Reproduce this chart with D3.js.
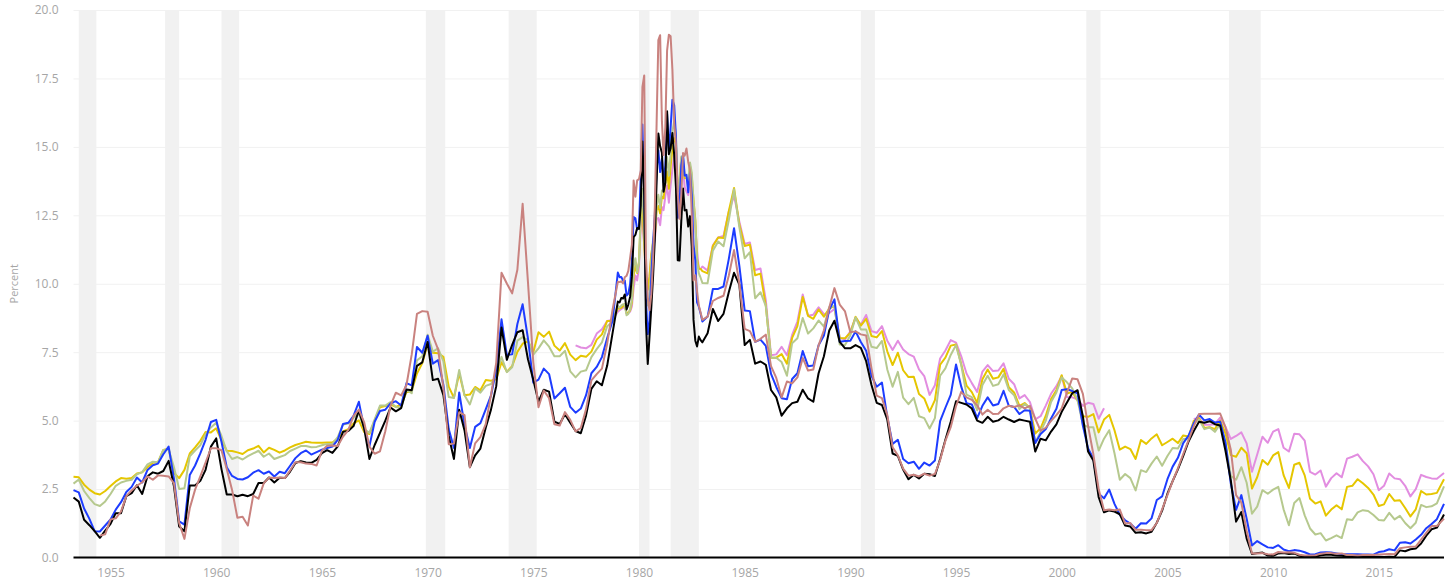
<!DOCTYPE html>
<html>
<head>
<meta charset="utf-8">
<script src="https://cdn.jsdelivr.net/npm/d3@7"></script>
<style>
    body { margin: 0; background: #fff; }
    svg text { font-family: "Open Sans", "Noto Sans", sans-serif; }
</style>
</head>
<body>
<svg id="chart" width="1456" height="585"></svg>
<script>
// sampling: quarterly (Jan/Apr/Jul/Oct) 1953-04..1978-10, monthly 1979..1982, quarterly 1983..2017-10, then 2018-02
const dates = [];
function addDates(y0, m0, y1, m1, step) {
    for (let d = new Date(y0, m0 - 1, 1); d <= new Date(y1, m1 - 1, 1); d = d3.timeMonth.offset(d, step))
        dates.push(d);
}
addDates(1953, 4, 1978, 10, 3);
addDates(1979, 1, 1982, 12, 1);
addDates(1983, 1, 2017, 10, 3);
dates.push(new Date(2018, 1, 1));

function missing(n) { return new Array(n).fill(null); }

const recessions = [
    ["1953-07", "1954-05"], ["1957-08", "1958-04"], ["1960-04", "1961-02"],
    ["1969-12", "1970-11"], ["1973-11", "1975-03"], ["1980-01", "1980-07"],
    ["1981-07", "1982-11"], ["1990-07", "1991-03"], ["2001-03", "2001-11"],
    ["2007-12", "2009-06"]
];

const yTicks = [0, 2.5, 5, 7.5, 10, 12.5, 15, 17.5, 20];

// 3-month treasury bill
const bill3m = [
    2.19, 2.04, 1.38,
    1.18, 0.96, 0.72, 0.98,
    1.23, 1.62, 1.62, 2.24,
    2.35, 2.64, 2.32, 2.97,
    3.11, 3.06, 3.16, 3.53,
    2.60, 1.13, 0.96, 2.63,
    2.63, 2.80, 3.20, 4.05,
    4.35, 3.23, 2.30, 2.30,
    2.24, 2.29, 2.24, 2.32,
    2.72, 2.72, 2.92, 2.74,
    2.91, 2.90, 3.14, 3.45,
    3.52, 3.47, 3.46, 3.57,
    3.81, 3.92, 3.82, 4.06,
    4.59, 4.62, 4.80, 5.36,
    4.72, 3.60, 4.11, 4.55,
    5.00, 5.48, 5.34, 5.46,
    6.14, 6.11, 7.00, 7.13,
    7.87, 6.48, 6.53, 5.93,
    4.44, 3.60, 5.40, 4.64,
    3.30, 3.73, 3.98, 4.74,
    5.41, 6.26, 8.40, 7.22,
    7.77, 8.23, 8.30, 7.24,
    6.49, 5.69, 6.13, 6.06,
    4.96, 4.88, 5.23, 4.92,
    4.62, 4.54, 5.19, 6.16,
    6.44, 6.29, 7.01, 8.19,
    9.35, 9.32, 9.48, 9.46, 9.61, 9.06, 9.24, 9.52, 10.26, 11.70, 11.79, 12.04,
    12.00, 12.86, 15.20, 13.20, 8.58, 7.07, 8.06, 9.13, 10.27, 11.62, 13.73, 15.49,
    15.02, 14.79, 13.36, 13.69, 16.30, 14.73, 14.95, 15.51, 14.70, 13.54, 10.86, 10.85,
    12.28, 13.48, 12.68, 12.70, 12.09, 12.47, 11.35, 8.68, 7.92, 7.71, 8.07, 7.94,
    7.86, 8.19, 9.08, 8.64,
    8.90, 9.69, 10.40, 9.97,
    7.76, 7.95, 7.08, 7.16,
    7.04, 6.12, 5.85, 5.18,
    5.45, 5.64, 5.69, 6.13,
    5.81, 5.69, 6.73, 7.35,
    8.29, 8.65, 7.88, 7.64,
    7.64, 7.76, 7.66, 7.17,
    6.30, 5.65, 5.57, 5.04,
    3.80, 3.71, 3.21, 2.86,
    3.02, 2.89, 3.06, 3.04,
    2.98, 3.60, 4.30, 4.96,
    5.71, 5.65, 5.59, 5.44,
    5.00, 4.92, 5.14, 4.96,
    5.01, 5.14, 5.04, 4.95,
    5.04, 5.00, 4.96, 3.87,
    4.34, 4.28, 4.60, 4.86,
    5.32, 5.66, 6.00, 6.11,
    5.15, 3.87, 3.54, 2.20,
    1.65, 1.72, 1.68, 1.58,
    1.17, 1.13, 0.90, 0.92,
    0.88, 0.94, 1.27, 1.71,
    2.33, 2.79, 3.22, 3.71,
    4.24, 4.62, 4.96, 4.92,
    4.98, 4.87, 4.82, 3.90,
    2.82, 1.31, 1.66, 0.69,
    0.13, 0.16, 0.18, 0.07,
    0.06, 0.15, 0.16, 0.13,
    0.15, 0.06, 0.04, 0.02,
    0.03, 0.08, 0.10, 0.10,
    0.07, 0.06, 0.04, 0.05,
    0.04, 0.03, 0.03, 0.02,
    0.03, 0.02, 0.03, 0.02,
    0.26, 0.23, 0.30, 0.33,
    0.51, 0.80, 1.03, 1.09,
    1.57
];

// 1-year treasury
const note1y = [
    2.46, 2.38, 1.79,
    1.41, 0.96, 0.95, 1.17,
    1.39, 1.75, 2.02, 2.39,
    2.58, 2.92, 2.74, 3.20,
    3.37, 3.43, 3.77, 4.05,
    2.88, 1.32, 1.20, 3.01,
    3.36, 3.80, 4.30, 4.95,
    5.03, 4.23, 3.30, 2.98,
    2.87, 2.85, 2.93, 3.10,
    3.19, 3.06, 3.14, 2.96,
    3.13, 3.08, 3.35, 3.63,
    3.81, 3.91, 3.76, 3.85,
    3.94, 4.00, 4.05, 4.30,
    4.88, 4.92, 5.17, 5.69,
    4.71, 4.06, 4.96, 5.35,
    5.40, 5.63, 5.71, 5.55,
    6.37, 6.29, 7.69, 7.48,
    8.10, 7.08, 7.21, 6.30,
    4.69, 4.00, 6.03, 4.83,
    4.00, 4.77, 4.91, 5.41,
    5.92, 6.87, 8.70, 7.40,
    7.42, 8.53, 9.25, 8.00,
    6.39, 6.50, 6.90, 6.70,
    5.81, 6.00, 6.20, 5.50,
    5.29, 5.44, 5.93, 6.73,
    6.96, 7.32, 8.02, 8.64,
    10.41, 10.24, 10.25, 10.12, 10.12, 9.57, 9.64, 9.98, 10.84, 12.44, 12.39, 11.98,
    12.06, 13.92, 15.82, 13.30, 9.39, 8.16, 8.65, 10.24, 11.52, 12.49, 14.15, 14.88,
    14.08, 14.57, 13.71, 14.32, 16.20, 14.86, 15.72, 16.72, 16.52, 15.38, 12.41, 12.85,
    14.32, 14.73, 13.95, 13.98, 13.34, 14.07, 13.24, 11.43, 10.85, 9.32, 9.16, 8.91,
    8.62, 8.80, 9.81, 9.81,
    9.90, 10.90, 12.03, 10.65,
    9.02, 9.00, 7.88, 7.96,
    7.73, 6.71, 6.23, 5.82,
    5.78, 6.52, 6.73, 7.54,
    6.99, 7.01, 7.75, 8.11,
    9.05, 9.43, 7.88, 7.91,
    7.92, 8.26, 7.87, 7.55,
    6.64, 6.24, 6.39, 5.14,
    4.15, 4.30, 3.60, 3.44,
    3.50, 3.24, 3.47, 3.36,
    3.54, 4.98, 5.47, 5.94,
    7.05, 6.24, 5.64, 5.59,
    5.09, 5.54, 5.85, 5.55,
    5.61, 6.09, 5.54, 5.50,
    5.24, 5.38, 5.36, 4.18,
    4.51, 4.69, 5.08, 5.43,
    6.12, 6.15, 6.08, 6.00,
    4.81, 3.98, 3.62, 2.33,
    2.16, 2.48, 1.96, 1.56,
    1.36, 1.24, 1.05, 1.25,
    1.24, 1.43, 2.10, 2.23,
    2.86, 3.32, 3.64, 4.18,
    4.45, 4.90, 5.22, 5.01,
    5.06, 4.93, 4.96, 4.20,
    2.71, 1.74, 2.28, 1.42,
    0.44, 0.60, 0.48, 0.37,
    0.35, 0.45, 0.29, 0.23,
    0.27, 0.25, 0.19, 0.11,
    0.12, 0.18, 0.19, 0.18,
    0.15, 0.12, 0.12, 0.12,
    0.12, 0.11, 0.11, 0.10,
    0.20, 0.23, 0.30, 0.26,
    0.54, 0.56, 0.51, 0.66,
    0.83, 1.07, 1.22, 1.40,
    1.96
];

// 5-year treasury
const note5y = [
    2.70, 2.85, 2.43,
    2.17, 1.95, 1.88, 2.05,
    2.32, 2.62, 2.74, 2.80,
    2.84, 3.04, 3.12, 3.40,
    3.50, 3.48, 3.93, 3.95,
    3.30, 2.50, 2.53, 3.70,
    3.91, 4.10, 4.50, 4.75,
    4.92, 4.44, 3.88, 3.60,
    3.67, 3.58, 3.70, 3.80,
    3.90, 3.68, 3.80, 3.60,
    3.67, 3.74, 3.89, 3.98,
    4.07, 4.07, 4.03, 4.04,
    4.10, 4.15, 4.15, 4.40,
    4.86, 4.89, 5.10, 5.27,
    4.70, 4.55, 5.05, 5.55,
    5.55, 5.68, 5.50, 5.46,
    6.12, 6.00, 7.20, 7.35,
    8.14, 7.52, 7.64, 7.16,
    5.86, 5.83, 6.85, 5.93,
    5.59, 6.18, 6.02, 6.27,
    6.34, 6.66, 7.33, 6.77,
    6.95, 7.92, 8.05, 7.94,
    7.41, 7.64, 7.93, 7.70,
    7.35, 7.35, 7.55, 6.80,
    6.58, 6.79, 6.84, 7.32,
    7.61, 7.86, 8.45, 8.61,
    9.20, 9.13, 9.20, 9.25, 9.24, 8.85, 8.90, 9.06, 9.41, 10.63, 10.93, 10.42,
    10.74, 12.60, 13.47, 11.84, 9.95, 9.21, 9.53, 10.84, 11.62, 11.86, 12.83, 13.25,
    12.77, 13.41, 13.41, 13.99, 14.63, 13.95, 14.79, 15.56, 15.93, 15.41, 13.38, 13.60,
    14.65, 14.54, 13.98, 13.85, 13.79, 14.43, 14.07, 13.00, 12.25, 10.80, 10.38, 10.22,
    10.03, 10.02, 11.21, 11.54,
    11.37, 12.32, 13.45, 12.06,
    10.93, 11.15, 9.47, 9.69,
    9.19, 7.30, 7.30, 7.14,
    6.64, 7.83, 8.01, 8.75,
    8.18, 8.37, 8.66, 8.43,
    9.15, 9.18, 7.78, 7.76,
    8.12, 8.77, 8.33, 8.33,
    7.70, 7.65, 7.91, 6.87,
    6.24, 6.78, 5.84, 5.60,
    5.83, 5.16, 5.09, 4.71,
    5.09, 6.64, 6.91, 7.40,
    7.76, 7.03, 5.95, 5.86,
    5.38, 6.30, 6.64, 6.27,
    6.33, 6.69, 6.12, 5.93,
    5.42, 5.61, 5.46, 4.18,
    4.60, 5.00, 5.68, 6.03,
    6.58, 6.40, 6.18, 5.74,
    4.86, 4.76, 4.76, 3.91,
    4.34, 4.65, 3.81, 2.84,
    3.05, 2.90, 2.45, 3.19,
    3.12, 3.43, 3.69, 3.35,
    3.71, 4.00, 3.98, 4.33,
    4.35, 4.90, 5.04, 4.69,
    4.75, 4.59, 4.88, 4.20,
    2.98, 2.84, 3.30, 2.73,
    1.60, 1.86, 2.46, 2.33,
    2.48, 2.58, 1.76, 1.18,
    1.99, 2.17, 1.54, 1.06,
    0.84, 0.89, 0.62, 0.71,
    0.81, 0.71, 1.40, 1.37,
    1.65, 1.73, 1.70, 1.55,
    1.37, 1.35, 1.63, 1.39,
    1.52, 1.26, 1.07, 1.27,
    1.92, 1.84, 1.87, 1.98,
    2.60
];

// 10-year treasury
const note10y = [
    2.95, 2.93, 2.66,
    2.48, 2.35, 2.30, 2.43,
    2.61, 2.78, 2.90, 2.88,
    2.90, 3.07, 3.11, 3.30,
    3.46, 3.48, 3.93, 3.97,
    3.09, 2.90, 3.20, 3.80,
    4.02, 4.26, 4.58, 4.57,
    4.72, 4.28, 3.90, 3.89,
    3.84, 3.78, 3.92, 3.98,
    4.08, 3.84, 4.01, 3.93,
    3.83, 3.91, 4.02, 4.11,
    4.17, 4.23, 4.20, 4.19,
    4.19, 4.20, 4.20, 4.35,
    4.61, 4.69, 4.90, 5.01,
    4.58, 4.51, 5.00, 5.49,
    5.53, 5.59, 5.50, 5.58,
    6.04, 6.08, 6.72, 7.10,
    7.79, 7.48, 7.46, 7.33,
    6.24, 5.83, 6.73, 5.93,
    5.95, 6.23, 6.11, 6.48,
    6.46, 6.51, 7.13, 6.79,
    6.99, 7.51, 7.81, 7.90,
    7.50, 8.23, 8.06, 8.25,
    7.74, 7.56, 7.83, 7.41,
    7.21, 7.37, 7.33, 7.52,
    7.96, 8.15, 8.64, 8.64,
    9.10, 9.10, 9.12, 9.18, 9.25, 8.91, 8.95, 9.03, 9.33, 10.30, 10.65, 10.39,
    10.80, 12.41, 12.75, 11.47, 10.18, 9.78, 10.25, 11.10, 11.51, 11.75, 12.68, 12.84,
    12.57, 13.19, 13.12, 13.68, 14.10, 13.47, 14.28, 14.94, 15.32, 15.15, 13.39, 13.72,
    14.59, 14.43, 13.86, 13.87, 13.62, 14.30, 13.95, 13.06, 12.34, 10.91, 10.55, 10.54,
    10.46, 10.38, 11.38, 11.69,
    11.67, 12.65, 13.50, 12.16,
    11.38, 11.43, 10.31, 10.37,
    9.19, 7.30, 7.30, 7.43,
    7.08, 8.02, 8.45, 9.52,
    8.83, 8.72, 9.06, 8.80,
    9.09, 9.18, 8.02, 8.01,
    8.21, 8.79, 8.47, 8.72,
    8.09, 8.04, 8.27, 7.53,
    7.03, 7.48, 6.84, 6.59,
    6.60, 5.97, 5.81, 5.33,
    5.75, 7.04, 7.30, 7.74,
    7.78, 7.06, 6.28, 6.04,
    5.65, 6.51, 6.87, 6.53,
    6.58, 6.89, 6.22, 6.03,
    5.54, 5.64, 5.46, 4.53,
    4.72, 5.18, 5.79, 6.11,
    6.66, 5.99, 6.05, 5.74,
    5.16, 5.14, 5.24, 4.57,
    5.04, 5.21, 4.65, 3.94,
    4.05, 3.96, 3.60, 4.29,
    4.15, 4.35, 4.50, 4.10,
    4.22, 4.34, 4.18, 4.46,
    4.42, 4.99, 5.09, 4.73,
    4.76, 4.69, 5.00, 4.53,
    3.74, 3.68, 4.01, 3.81,
    2.52, 2.93, 3.56, 3.39,
    3.73, 3.85, 3.01, 2.54,
    3.39, 3.46, 3.00, 2.15,
    1.97, 2.05, 1.53, 1.75,
    1.91, 1.76, 2.58, 2.62,
    2.86, 2.71, 2.54, 2.30,
    1.88, 1.94, 2.32, 2.07,
    2.09, 1.81, 1.50, 1.76,
    2.43, 2.30, 2.32, 2.36,
    2.86
];

// 30-year treasury (starts 1977, not issued 2002-2006)
const bond30y = missing(95).concat([
    7.75, 7.67, 7.64, 7.77,
    8.18, 8.34, 8.64, 8.68,
    8.98, 9.03, 9.08, 9.12, 9.18, 8.92, 8.93, 8.98, 9.17, 9.85, 10.30, 10.12,
    10.60, 12.13, 12.34, 11.40, 10.36, 9.81, 10.24, 11.00, 11.34, 11.59, 12.37, 12.40,
    12.14, 12.80, 12.69, 13.20, 13.60, 12.96, 13.59, 14.17, 14.67, 14.68, 13.35, 13.45,
    14.22, 14.22, 13.53, 13.37, 13.24, 13.92, 13.55, 12.77, 12.07, 11.17, 10.54, 10.54,
    10.63, 10.48, 11.40, 11.69,
    11.75, 12.63, 13.21, 12.27,
    11.45, 11.51, 10.50, 10.56,
    9.40, 7.39, 7.42, 7.70,
    7.39, 8.13, 8.62, 9.61,
    8.83, 8.87, 9.14, 8.89,
    8.93, 9.08, 8.02, 7.97,
    8.26, 8.76, 8.50, 8.86,
    8.27, 8.21, 8.45, 7.92,
    7.58, 7.92, 7.60, 7.43,
    7.34, 6.87, 6.63, 5.94,
    6.29, 7.27, 7.56, 7.94,
    7.85, 7.35, 6.72, 6.37,
    6.05, 6.79, 7.03, 6.81,
    6.83, 7.09, 6.53, 6.33,
    5.81, 5.93, 5.68, 5.05,
    5.16, 5.55, 5.98, 6.26,
    6.63, 5.85, 5.85, 5.78,
    5.54, 5.65, 5.61, 5.07,
    5.45, null, null, null,
    null, null, null, null,
    null, null, null, null,
    null, null, null, null,
    null, 5.06, 5.10, 4.85,
    4.85, 4.87, 5.11, 4.77,
    4.33, 4.44, 4.57, 4.17,
    3.13, 3.76, 4.41, 4.19,
    4.60, 4.69, 4.01, 3.87,
    4.52, 4.50, 4.27, 3.13,
    3.03, 3.18, 2.59, 2.90,
    3.08, 2.93, 3.61, 3.68,
    3.77, 3.52, 3.33, 3.04,
    2.46, 2.62, 3.07, 2.89,
    2.86, 2.62, 2.23, 2.50,
    3.02, 2.94, 2.89, 2.88,
    3.09
]);

// effective federal funds rate (starts July 1954)
const fedFunds = [
    null, null, null,
    null, null, 0.80, 0.85,
    1.39, 1.43, 1.68, 2.24,
    2.45, 2.62, 2.75, 2.96,
    2.84, 3.00, 2.99, 2.96,
    2.72, 1.26, 0.68, 1.80,
    2.48, 2.96, 3.47, 3.99,
    3.99, 3.92, 3.23, 2.47,
    1.45, 1.49, 1.17, 2.26,
    2.15, 2.71, 2.92, 2.90,
    2.92, 2.90, 3.18, 3.48,
    3.48, 3.43, 3.42, 3.36,
    3.90, 4.08, 4.09, 4.07,
    4.42, 4.65, 5.17, 5.40,
    4.94, 4.05, 3.79, 3.88,
    4.61, 5.55, 6.02, 5.92,
    6.30, 7.41, 8.90, 9.00,
    8.98, 8.10, 7.60, 6.20,
    4.14, 4.16, 5.31, 5.20,
    3.30, 4.17, 4.40, 4.87,
    5.94, 7.12, 10.40, 10.01,
    9.65, 10.51, 12.92, 10.06,
    7.13, 5.49, 6.10, 5.82,
    4.87, 4.82, 5.31, 5.03,
    4.61, 4.73, 5.42, 6.47,
    6.70, 6.90, 7.81, 9.04,
    10.07, 10.06, 10.09, 10.01, 10.24, 10.29, 10.47, 10.94, 11.43, 13.77, 13.18, 13.78,
    13.82, 14.13, 17.19, 17.61, 10.98, 9.47, 9.03, 9.61, 10.87, 12.81, 15.85, 18.90,
    19.08, 15.93, 14.70, 15.72, 18.52, 19.10, 19.04, 17.82, 15.87, 15.08, 13.31, 12.37,
    13.22, 14.78, 14.68, 14.94, 14.45, 14.15, 12.59, 10.12, 10.31, 9.71, 9.20, 8.95,
    8.68, 8.80, 9.37, 9.48,
    9.56, 10.29, 11.23, 9.99,
    8.35, 8.27, 7.88, 7.99,
    8.14, 6.99, 6.56, 5.85,
    6.43, 6.36, 6.58, 7.29,
    6.83, 6.87, 7.75, 8.30,
    9.12, 9.84, 9.24, 8.99,
    8.23, 8.26, 8.15, 8.11,
    6.91, 5.91, 5.82, 5.21,
    4.03, 3.73, 3.25, 2.99,
    3.02, 2.96, 3.06, 2.99,
    3.05, 3.56, 4.26, 4.76,
    5.53, 6.05, 5.85, 5.76,
    5.56, 5.22, 5.40, 5.24,
    5.25, 5.45, 5.54, 5.50,
    5.56, 5.45, 5.54, 5.07,
    4.63, 4.74, 4.99, 5.20,
    5.45, 6.02, 6.54, 6.51,
    5.98, 4.80, 3.77, 2.49,
    1.73, 1.75, 1.73, 1.75,
    1.24, 1.26, 1.01, 1.01,
    1.00, 1.00, 1.26, 1.76,
    2.28, 2.79, 3.26, 3.78,
    4.29, 4.79, 5.24, 5.25,
    5.25, 5.25, 5.26, 4.76,
    3.94, 2.28, 2.01, 0.97,
    0.15, 0.15, 0.16, 0.12,
    0.11, 0.20, 0.18, 0.19,
    0.17, 0.10, 0.07, 0.07,
    0.08, 0.14, 0.16, 0.16,
    0.14, 0.15, 0.09, 0.09,
    0.07, 0.09, 0.09, 0.09,
    0.11, 0.12, 0.13, 0.12,
    0.34, 0.37, 0.39, 0.40,
    0.65, 0.90, 1.15, 1.15,
    1.42
];

// drawing order: first drawn ends up underneath
const series = [
    { name: "30-year", values: bond30y, color: "#e28de0" },
    { name: "10-year", values: note10y, color: "#e5c600" },
    { name: "5-year", values: note5y, color: "#b6c98e" },
    { name: "1-year", values: note1y, color: "#1d3cff" },
    { name: "3-month", values: bill3m, color: "#000000" },
    { name: "Fed funds", values: fedFunds, color: "#c9827f" }
];

series.forEach(s => {
    if (s.values.length !== dates.length)
        console.warn(s.name + ': ' + s.values.length + ' values for ' + dates.length + ' dates');
});

const plot = { left: 73.5, right: 1444, top: 10, bottom: 557.5 };

const svg = d3.select("#chart");
const parseMonth = d3.timeParse("%Y-%m");

const x = d3.scaleTime()
    .domain([new Date(1953, 3, 1), new Date(2018, 1, 1)])
    .range([plot.left, plot.right]);

const y = d3.scaleLinear()
    .domain([0, 20])
    .range([plot.bottom, plot.top]);

// gridlines + y labels
const yAxis = svg.append("g")
    .attr("transform", "translate(" + plot.left + ",0)")
    .call(d3.axisLeft(y)
        .tickValues(yTicks)
        .tickFormat(d3.format(".1f"))
        .tickSize(-(plot.right - plot.left))
        .tickPadding(15));
yAxis.select(".domain").remove();
yAxis.selectAll(".tick line").attr("stroke", "#f1f1f1");
yAxis.selectAll(".tick text")
    .attr("fill", "#a6a6a6")
    .style("font-size", "12px");

// recession shading
svg.append("g")
    .selectAll("rect")
    .data(recessions)
    .join("rect")
        .attr("x", d => x(parseMonth(d[0])))
        .attr("y", plot.top)
        .attr("width", d => x(parseMonth(d[1])) - x(parseMonth(d[0])))
        .attr("height", plot.bottom - plot.top)
        .attr("fill", "#f1f1f1");

// x axis labels
const xAxis = svg.append("g")
    .attr("transform", "translate(0," + plot.bottom + ")")
    .call(d3.axisBottom(x)
        .ticks(d3.timeYear.every(5))
        .tickFormat(d3.timeFormat("%Y"))
        .tickSize(0)
        .tickPadding(11));
xAxis.select(".domain").remove();
xAxis.selectAll(".tick text")
    .attr("fill", "#a6a6a6")
    .style("font-size", "12px");

// lines
const line = d3.line()
    .defined(d => d[1] !== null)
    .x(d => x(d[0]))
    .y(d => y(d[1]));

svg.append("g")
    .selectAll("path")
    .data(series)
    .join("path")
        .attr("d", s => line(dates.map((dt, i) => [dt, s.values[i] === undefined ? null : s.values[i]])))
        .attr("fill", "none")
        .attr("stroke", s => s.color)
        .attr("stroke-width", 2)
        .attr("stroke-linejoin", "round");

// baseline
svg.append("line")
    .attr("x1", plot.left)
    .attr("x2", plot.right)
    .attr("y1", y(0))
    .attr("y2", y(0))
    .attr("stroke", "#000")
    .attr("stroke-width", 2);

svg.append("text")
    .attr("transform", "translate(18," + ((plot.top + plot.bottom) / 2) + ") rotate(-90)")
    .attr("text-anchor", "middle")
    .attr("fill", "#a6a6a6")
    .style("font-size", "11px")
    .text("Percent");
</script>
</body>
</html>
